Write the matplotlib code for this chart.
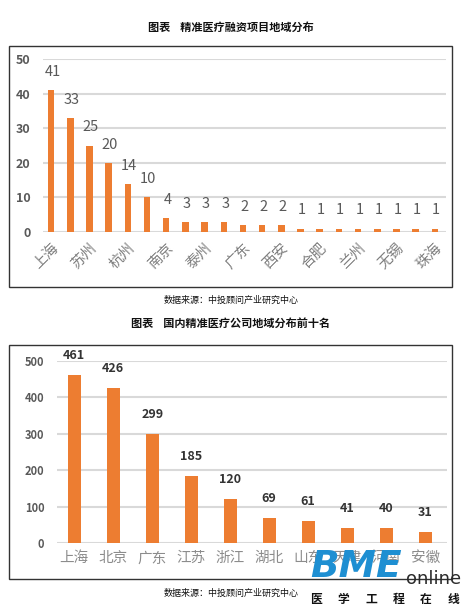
import matplotlib.pyplot as plt
from matplotlib.patches import Rectangle

plt.rcParams['font.family'] = ['Noto Sans CJK SC', 'DejaVu Sans']

# chart 1: financing projects by region (only every other name is shown)
top_names = ['上海', '', '苏州', '', '杭州', '', '南京', '', '泰州', '', '广东',
             '', '西安', '', '合肥', '', '兰州', '', '无锡', '', '珠海']
top_values = [41, 33, 25, 20, 14, 10, 4, 3, 3, 3, 2, 2, 2, 1, 1, 1, 1, 1, 1, 1, 1]
top_ticks = [0, 10, 20, 30, 40, 50]

# chart 2: top ten regions by number of companies
bot_names = ['上海', '北京', '广东', '江苏', '浙江', '湖北', '山东', '天津', '河南', '安徽']
bot_values = [461, 426, 299, 185, 120, 69, 61, 41, 40, 31]
bot_ticks = [0, 100, 200, 300, 400, 500]

orange = '#ED7D31'
grid_c = '#d9d9d9'
W, H = 462, 608

fig = plt.figure(figsize=(W / 100, H / 100), dpi=100)


def px_axes(x0, y0, x1, y1):
    # pixel box (top-left origin) -> figure axes
    return fig.add_axes([x0 / W, 1 - y1 / H, (x1 - x0) / W, (y1 - y0) / H])


def px_box(x0, y0, x1, y1):
    fig.add_artist(Rectangle((x0 / W, 1 - y1 / H), (x1 - x0) / W, (y1 - y0) / H,
                             transform=fig.transFigure, fill=False,
                             edgecolor='#333333', linewidth=1))


def style(ax):
    for s in ax.spines.values():
        s.set_visible(False)
    ax.yaxis.grid(True, color=grid_c, linewidth=1.5)
    ax.set_axisbelow(True)
    ax.tick_params(length=0)


# ---------- top chart ----------
fig.text(0.5, 1 - 27 / H, '图表    精准医疗融资项目地域分布', ha='center', va='center',
         fontsize=8, fontweight='bold', color='#111111')
px_box(9, 46, 452, 287)
ax1 = px_axes(43, 59, 446, 232)
x1 = list(range(len(top_values)))
ax1.bar(x1, top_values, width=0.34, color=orange)
ax1.set_xlim(-0.42, len(top_values) - 0.42)
ax1.set_ylim(0, 50)
ax1.set_yticks(top_ticks)
ax1.set_yticklabels([str(t) for t in top_ticks], fontsize=9, fontweight='bold', color='#595959')
ax1.tick_params(axis='y', pad=9)
style(ax1)
for xi, v in zip(x1, top_values):
    ax1.annotate(str(v), (xi, v), xytext=(1, 13), textcoords='offset points',
                 ha='center', va='center', fontsize=10.5, color='#595959', clip_on=False)
shown = [i for i, n in enumerate(top_names) if n]
ax1.set_xticks(shown)
ax1.set_xticklabels([top_names[i] for i in shown], rotation=45, ha='right',
                    rotation_mode='anchor', fontsize=10.5, color='#7f7f7f')
ax1.tick_params(axis='x', pad=6)

fig.text(0.5, 1 - 300 / H, '数据来源：中投顾问产业研究中心', ha='center', va='center',
         fontsize=6.5, color='#111111')

# ---------- bottom chart ----------
fig.text(0.5, 1 - 323 / H, '图表    国内精准医疗公司地域分布前十名', ha='center', va='center',
         fontsize=8, fontweight='bold', color='#111111')
px_box(9, 345, 452, 579)
ax2 = px_axes(57, 361, 447, 543)
x2 = list(range(len(bot_values)))
ax2.bar(x2, bot_values, width=0.34, color=orange)
ax2.set_xlim(-0.44, len(bot_values) - 0.44)
ax2.set_ylim(0, 500)
ax2.set_yticks(bot_ticks)
ax2.set_yticklabels([str(t) for t in bot_ticks], fontsize=8, fontweight='bold', color='#595959')
ax2.tick_params(axis='y', pad=9)
style(ax2)
for xi, v in zip(x2, bot_values):
    ax2.annotate(str(v), (xi, v), xytext=(0, 14), textcoords='offset points',
                 ha='center', va='center', fontsize=9, fontweight='bold',
                 color='#333333', clip_on=False)
ax2.set_xticks(x2)
ax2.set_xticklabels(bot_names, fontsize=10.5, color='#8c8c8c')
ax2.tick_params(axis='x', pad=6)

fig.text(0.5, 1 - 593 / H, '数据来源：中投顾问产业研究中心', ha='center', va='center',
         fontsize=6.5, color='#111111')

# ---------- watermark ----------
fig.text(356 / W, 1 - 567 / H, 'BME', ha='center', va='center', fontsize=27,
         fontweight='heavy', fontstyle='italic', color='#1e8fd2', family='DejaVu Sans',
         zorder=10)
fig.text(434 / W, 1 - 579 / H, 'online', ha='center', va='center', fontsize=13,
         color='#2a2a2a', family='DejaVu Sans', zorder=10)
for i, ch in enumerate('医学工程在线'):
    fig.text((316 + i * 27.5) / W, 1 - 599 / H, ch, ha='center', va='center',
             fontsize=8.5, fontweight='bold', color='#111111', zorder=10)

fig.savefig('out.png', dpi=100, facecolor='white')
